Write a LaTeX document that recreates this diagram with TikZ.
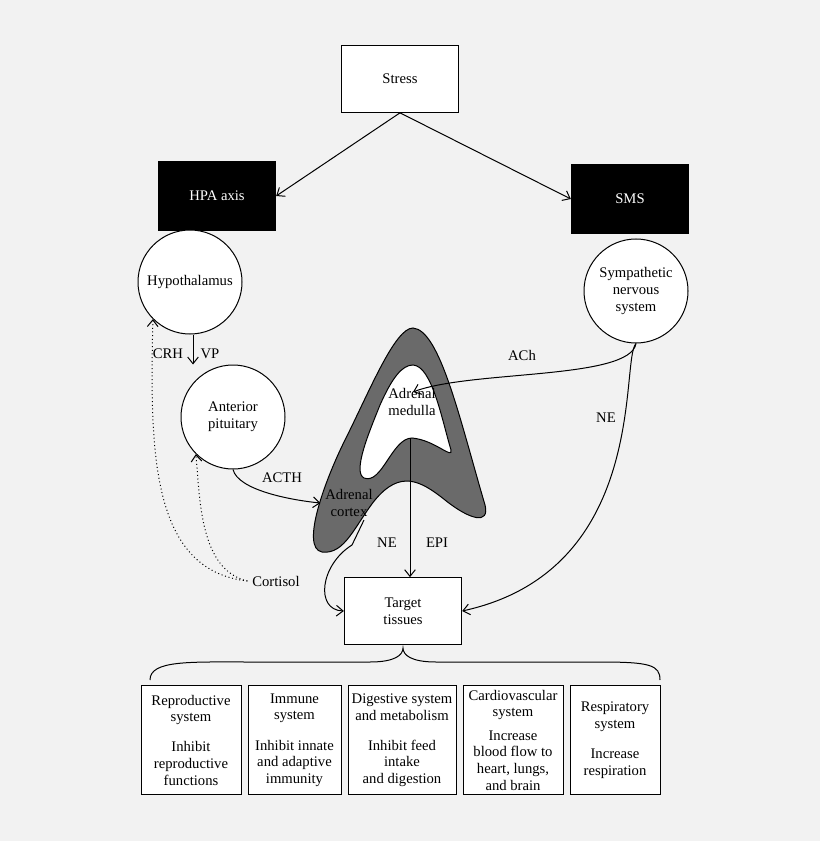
\documentclass[tikz,border=0pt]{standalone}
\usepackage{fontspec}
\setmainfont{Liberation Serif}
\usetikzlibrary{arrows.meta}
\tikzset{every picture/.style={line width=0.75pt}}
\tikzset{
  box/.style={draw, fill=white, minimum width=88pt, minimum height=50pt, align=center, font=\fontsize{11}{12.5}\selectfont},
  blackbox/.style={draw, fill=black, text=white, minimum width=88pt, minimum height=52pt, font=\fontsize{11}{12.5}\selectfont},
  organ/.style={draw, circle, fill=white, minimum size=78pt, inner sep=1pt, align=center, font=\fontsize{11}{12.5}\selectfont},
  effect/.style={draw, fill=white, minimum height=82pt, align=center, anchor=north, inner sep=1pt, font=\fontsize{11}{12.5}\selectfont},
  lab/.style={font=\fontsize{11}{12.5}\selectfont},
  arr/.style={-{Straight Barb[length=5pt,width=8pt]}},
}
\begin{document}
\begin{tikzpicture}[x=0.75pt,y=0.75pt,yscale=-1,xscale=1]
\fill[gray!10] (0,0) rectangle (820,841);
\useasboundingbox (0,0) rectangle (820,841);

% top level
\node[box] (stress) at (400,79) {Stress};
\node[blackbox] (hpa) at (217,196) {HPA axis};
\node[blackbox] (sms) at (630,199) {SMS};
\node[organ] (hypo) at (190,282) {Hypothalamus};
\node[organ] (symp) at (636,291) {Sympathetic\\nervous\\system};
\node[organ] (pit) at (233,417) {Anterior\\pituitary};

\draw[arr] (stress.south) -- (hpa.east);
\draw[arr] (stress.south) -- (sms.west);

% adrenal gland
\draw[fill=gray!70!black!90] (413,328) .. controls (440,330) and (460,420) .. (485,505)
  .. controls (490,525) and (470,520) .. (445,500) .. controls (420,480) and (400,470) .. (375,500)
  .. controls (355,525) and (345,555) .. (322,552) .. controls (300,548) and (325,480) .. (345,440)
  .. controls (370,390) and (395,328) .. (413,328) -- cycle;
\draw[fill=white] (413,365) .. controls (432,366) and (442,420) .. (451,450)
  .. controls (453,460) and (435,440) .. (412,438) .. controls (392,438) and (382,485) .. (364,478)
  .. controls (352,472) and (370,430) .. (380,405) .. controls (392,378) and (402,365) .. (413,365) -- cycle;
\node[lab, align=center] (medulla) at (412,402) {Adrenal\\medulla};
\node[lab, align=center] (cortex) at (349,503) {Adrenal\\cortex};

\node[box] (target) at (403,611) {Target\\tissues};
\node[lab] (cortisol) at (276,581) {Cortisol};
\node[lab] at (168,354) {CRH};
\node[lab] at (210,354) {VP};
\node[lab] at (282,478) {ACTH};
\node[lab] at (522,355) {ACh};
\node[lab] at (606,418) {NE};
\node[lab] at (387,543) {NE};
\node[lab] at (437,543) {EPI};

% connectors
\draw[arr] (hypo.south) ++(3,0) coordinate (h1) -- (h1 |- pit.north);
\draw[arr] (pit.south) .. controls (238,490) and (290,500) .. (cortex.west);
\coordinate (m1) at (410,438);
\draw[arr] (m1) -- (m1 |- target.north);
\draw[arr] (symp.south) .. controls (630,380) and (470,370) .. (413,392);
\draw[arr] (symp.south) .. controls (620,360) and (650,570) .. (target.east);
\draw[arr] (364,520) -- (352,545) .. controls (320,565) and (315,610) .. (target.west);
\draw[dotted, arr] (cortisol.west) .. controls (150,570) and (150,450) .. (hypo.south west);
\draw[dotted, arr] (cortisol.west) .. controls (200,570) and (200,500) .. (pit.south west);

% brace
\draw (150,680) .. controls (150,660) and (190,662) .. (250,662) -- (370,662)
  .. controls (395,662) and (403,655) .. (403,648) .. controls (403,655) and (411,662) .. (436,662)
  -- (600,662) .. controls (650,662) and (660,665) .. (660,680);

% target systems
\node[effect, minimum width=100pt*0.75] (rep) at (191,685) {Reproductive\\system\\[2ex]Inhibit\\reproductive\\functions};
\node[effect, minimum width=93pt*0.75] (imm) at (294.5,685) {Immune\\system\\[2ex]Inhibit innate\\and adaptive\\immunity};
\node[effect, minimum width=108pt*0.75] (dig) at (402,685) {Digestive system\\and metabolism\\[2ex]Inhibit feed\\intake\\and digestion};
\node[effect, minimum width=100pt*0.75] (car) at (513,685) {Cardiovascular\\system\\[1ex]Increase\\blood flow to\\heart, lungs,\\and brain};
\node[effect, minimum width=90pt*0.75] (res) at (615,685) {Respiratory\\system\\[2ex]Increase\\respiration};
\end{tikzpicture}
\end{document}
